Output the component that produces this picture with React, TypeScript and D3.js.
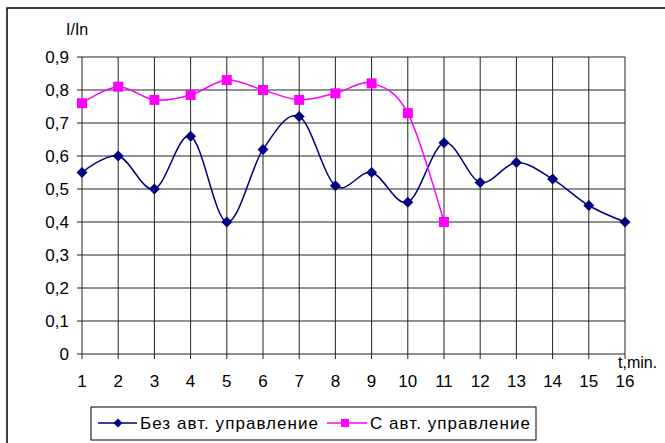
import * as d3 from "d3";

const minutes = [1, 2, 3, 4, 5, 6, 7, 8, 9, 10, 11, 12, 13, 14, 15, 16];
const withoutControl = [0.55, 0.6, 0.5, 0.66, 0.4, 0.62, 0.72, 0.51, 0.55, 0.46, 0.64, 0.52, 0.58, 0.53, 0.45, 0.4];
const withControl = [0.76, 0.81, 0.77, 0.785, 0.83, 0.8, 0.77, 0.79, 0.82, 0.73, 0.4];
const yTicks = [0, 0.1, 0.2, 0.3, 0.4, 0.5, 0.6, 0.7, 0.8, 0.9];
const seriesNames = ["Без авт. управление", "С авт. управление"];

const W = 665;
const H = 443;
const FONT = "'Liberation Sans', Arial, sans-serif";

export default function App() {
  const x = d3.scaleLinear().domain([1, 16]).range([82, 625]);
  const y = d3.scaleLinear().domain([0, 0.9]).range([354, 57]);

  // excel-like smoothing
  const line = d3
    .line<number>()
    .x((_, i) => x(minutes[i]))
    .y((d) => y(d))
    .curve(d3.curveCardinal.tension(0));

  const fmt = (v: number) => (v === 0 ? "0" : v.toFixed(1).replace(".", ","));

  const diamond = (cx: number, cy: number, r: number) =>
    `M${cx},${cy - r}L${cx + r},${cy}L${cx},${cy + r}L${cx - r},${cy}Z`;

  return (
    <svg
      width={W}
      height={H}
      style={{ position: "absolute", left: 0, top: 0, display: "block", background: "#fff" }}
      fontFamily={FONT}
    >
      {/* chart frame */}
      <rect x={7} y={8} width={W + 20} height={H + 20} fill="#fff" stroke="#000" strokeWidth={1.5} />

      {/* grid */}
      <g stroke="#222" strokeWidth={1}>
        {yTicks.map((t) => (
          <line key={"h" + t} x1={x(1) - 5} x2={x(16)} y1={y(t)} y2={y(t)} />
        ))}
        {minutes.map((m) => (
          <line key={"v" + m} x1={x(m)} x2={x(m)} y1={y(0.9)} y2={y(0) + 5} />
        ))}
      </g>

      {/* y labels */}
      <g fontSize={17} fill="#000" textAnchor="end">
        {yTicks.map((t) => (
          <text key={"yl" + t} x={69} y={y(t) + 6}>
            {fmt(t)}
          </text>
        ))}
      </g>
      <text x={66} y={35} fontSize={16}>
        I/In
      </text>

      {/* x labels */}
      <g fontSize={17} fill="#000" textAnchor="middle">
        {minutes.map((m) => (
          <text key={"xl" + m} x={x(m)} y={387}>
            {m}
          </text>
        ))}
      </g>
      <text x={618} y={368} fontSize={16}>
        t,min.
      </text>

      {/* series without control */}
      <path d={line(withoutControl) ?? ""} fill="none" stroke="#000080" strokeWidth={1.5} />
      {withoutControl.map((v, i) => (
        <path key={"b" + i} d={diamond(x(minutes[i]), y(v), 5.5)} fill="#000080" />
      ))}

      {/* series with control */}
      <path d={line(withControl) ?? ""} fill="none" stroke="#FF00FF" strokeWidth={1.5} />
      {withControl.map((v, i) => (
        <rect key={"p" + i} x={x(minutes[i]) - 5} y={y(v) - 5} width={10} height={10} fill="#FF00FF" />
      ))}

      {/* legend */}
      <rect x={91} y={407} width={445} height={33} fill="#fff" stroke="#000" strokeWidth={1} />
      <line x1={98} x2={137} y1={423} y2={423} stroke="#000080" strokeWidth={1.5} />
      <path d={diamond(118, 423, 4.5)} fill="#000080" />
      <text x={140} y={429} fontSize={17} textLength={178}>
        {seriesNames[0]}
      </text>
      <line x1={327} x2={367} y1={423} y2={423} stroke="#FF00FF" strokeWidth={1.5} />
      <rect x={341} y={419} width={8} height={8} fill="#FF00FF" />
      <text x={370} y={429} fontSize={17} textLength={160}>
        {seriesNames[1]}
      </text>
    </svg>
  );
}
